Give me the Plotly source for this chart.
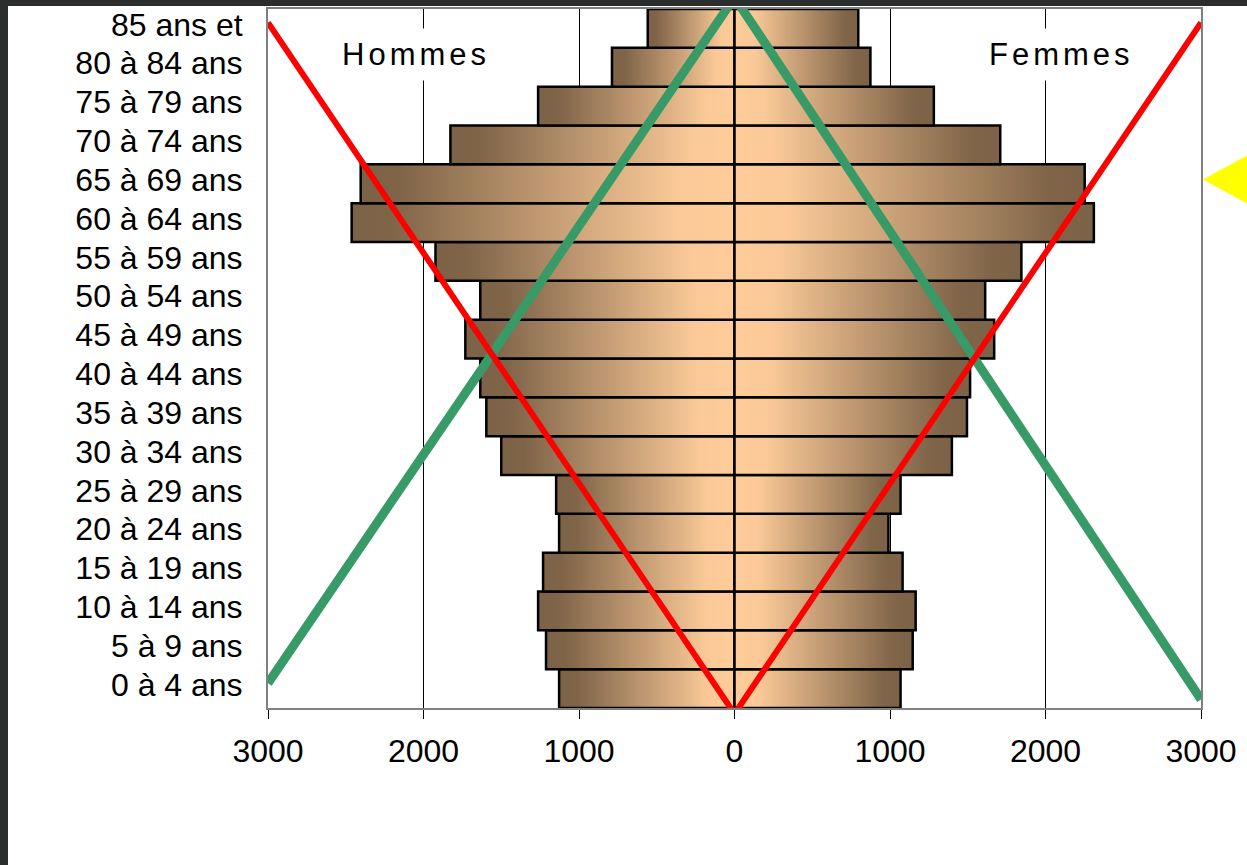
import plotly.graph_objects as go

# ---- data ----
age_groups = ["0 à 4 ans", "5 à 9 ans", "10 à 14 ans", "15 à 19 ans", "20 à 24 ans",
              "25 à 29 ans", "30 à 34 ans", "35 à 39 ans", "40 à 44 ans", "45 à 49 ans",
              "50 à 54 ans", "55 à 59 ans", "60 à 64 ans", "65 à 69 ans", "70 à 74 ans",
              "75 à 79 ans", "80 à 84 ans", "85 ans et"]
hommes = [1128, 1212, 1263, 1231, 1128, 1147, 1500, 1596, 1635, 1731,
          1635, 1923, 2462, 2404, 1827, 1263, 788, 558]
femmes = [1068, 1146, 1165, 1081, 990, 1068, 1398, 1495, 1515, 1670,
          1612, 1845, 2311, 2252, 1709, 1282, 874, 796]
x_ticks = [-3000, -2000, -1000, 0, 1000, 2000, 3000]
x_tick_labels = ["3000", "2000", "1000", "0", "1000", "2000", "3000"]

# overlay "X" lines (x value, age-group index)
red_x = [-3000, 0, 3000]
red_y = [17.15, -0.65, 17.15]
green_x = [-3000, 0, 3000]
green_y = [0.14, 17.8, -0.28]

# ---- style ----
FONT = "Liberation Sans, Arial, sans-serif"
DARK = "#7f6448"
LIGHT = "#ffcc99"
scale_men = [[0, "#7c6246"], [0.1, DARK], [0.85, "#fac997"], [1, LIGHT]]
scale_women = [[0, LIGHT], [0.15, "#fac997"], [0.9, DARK], [1, "#7c6246"]]
half = 0.5

fig = go.Figure()

for side, values, cs in (("H", hommes, scale_men), ("F", femmes, scale_women)):
    sign = -1 if side == "H" else 1
    for i, v in enumerate(values):
        xv = sign * v
        fig.add_trace(go.Scatter(
            x=[0, xv, xv, 0, 0],
            y=[i - half, i - half, i + half, i + half, i - half],
            mode="lines", fill="toself",
            fillgradient=dict(type="horizontal", colorscale=cs),
            line=dict(color="black", width=2.5),
            hoverinfo="skip", showlegend=False,
        ))

fig.add_trace(go.Scatter(x=green_x, y=green_y, mode="lines",
                         line=dict(color="#379a67", width=9),
                         hoverinfo="skip", showlegend=False))
fig.add_trace(go.Scatter(x=red_x, y=red_y, mode="lines",
                         line=dict(color="#ff0000", width=6),
                         hoverinfo="skip", showlegend=False))

fig.add_annotation(x=-2050, y=16.33, xref="x", yref="y", showarrow=False,
                   text='<span style="letter-spacing:4px">Hommes</span>',
                   font=dict(family=FONT, size=31, color="black"),
                   bgcolor="white", borderpad=8)
fig.add_annotation(x=2100, y=16.33, xref="x", yref="y", showarrow=False,
                   text='<span style="letter-spacing:4px">Femmes</span>',
                   font=dict(family=FONT, size=31, color="black"),
                   bgcolor="white", borderpad=8)

# yellow pointer on the right edge (pixel position converted to paper coords)
PL, PR, PT, PB = 268, 1201, 7, 708
def px(x):
    return (x - PL) / (PR - PL)
def py(y):
    return (PB - y) / (PB - PT)
fig.add_shape(type="path", xref="paper", yref="paper",
              path=f"M {px(1203)},{py(178)} L {px(1300)},{py(125)} L {px(1300)},{py(231)} Z",
              fillcolor="#ffff00", line=dict(width=0), layer="above")

fig.update_xaxes(range=[-3000, 3000], tickvals=x_ticks, ticktext=x_tick_labels,
                 showgrid=True, gridcolor="black", gridwidth=1,
                 zeroline=True, zerolinecolor="black", zerolinewidth=2,
                 showline=True, linecolor="#808080", linewidth=2, mirror=True,
                 ticks="outside", ticklen=9, tickcolor="black", tickwidth=1,
                 ticklabelstandoff=5,
                 tickfont=dict(family=FONT, size=32, color="black"), fixedrange=True)
fig.update_yaxes(range=[-0.5, 17.5], tickvals=list(range(len(age_groups))),
                 ticktext=age_groups, showgrid=False, zeroline=False,
                 showline=True, linecolor="#808080", linewidth=2, mirror=True,
                 ticks="", ticklabelstandoff=17, ticklabelshift=-4,
                 tickfont=dict(family=FONT, size=32, color="black"), fixedrange=True)

fig.update_layout(width=1239, height=859,
                  margin=dict(l=260, r=46, t=1, b=157, pad=0),
                  paper_bgcolor="white", plot_bgcolor="white",
                  font=dict(family=FONT, color="black"),
                  showlegend=False)

fig.write_html("out.html", config={"displayModeBar": False},
               post_script="document.body.style.margin='6px 0 0 8px';"
                           "document.body.style.background='#2c2e2d';"
                           "document.body.style.overflow='hidden';")
